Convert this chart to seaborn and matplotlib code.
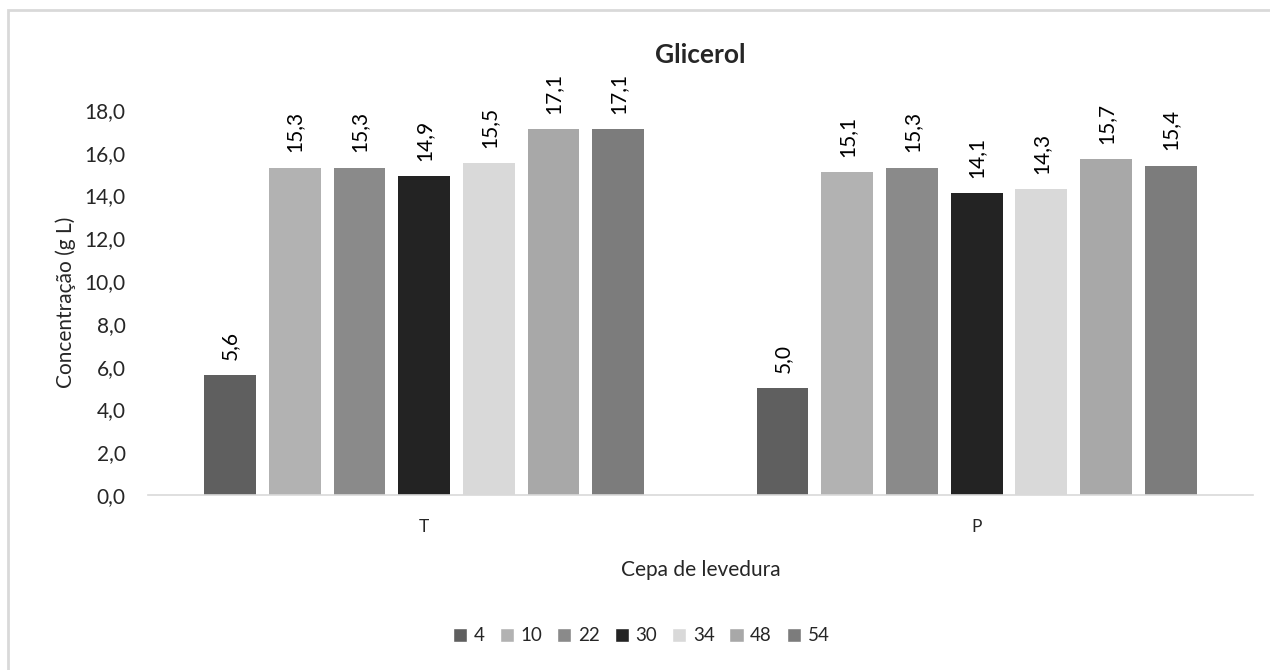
import pandas as pd
import matplotlib.pyplot as plt
import seaborn as sns
from matplotlib.patches import Rectangle

cepas = ['T', 'P']
tempos = ['4', '10', '22', '30', '34', '48', '54']
valores_T = [5.6, 15.3, 15.3, 14.9, 15.5, 17.1, 17.1]
valores_P = [5.0, 15.1, 15.3, 14.1, 14.3, 15.7, 15.4]
cores = ['#5f5f5f', '#b2b2b2', '#8a8a8a', '#232323', '#d9d9d9', '#a8a8a8', '#7c7c7c']

linhas = []
for t, v in zip(tempos, valores_T):
    linhas.append({'cepa': 'T', 'tempo': t, 'valor': v})
for t, v in zip(tempos, valores_P):
    linhas.append({'cepa': 'P', 'tempo': t, 'valor': v})
df = pd.DataFrame(linhas)

sns.set_style('white')
plt.rcParams['font.family'] = ['Lato', 'DejaVu Sans']

fig = plt.figure(figsize=(12.7, 6.7), dpi=100)
ax = fig.add_axes([0.1165, 0.261, 0.870, 0.575])

sns.barplot(data=df, x='cepa', y='valor', hue='tempo', order=cepas, hue_order=tempos,
            palette=dict(zip(tempos, cores)), width=0.82, gap=0.2, linewidth=0,
            errorbar=None, ax=ax, legend=False)

for cont in ax.containers:
    for barra in cont:
        h = barra.get_height()
        ax.annotate(('%.1f' % h).replace('.', ','),
                    (barra.get_x() + barra.get_width() / 2, h),
                    xytext=(0, 11), textcoords='offset points',
                    rotation=90, ha='center', va='bottom', fontsize=15, color='#000000')

ax.set_ylim(0, 18)
ax.set_yticks(range(0, 19, 2))
ax.set_yticklabels([('%.1f' % v).replace('.', ',') for v in range(0, 19, 2)], fontsize=15)
ax.tick_params(axis='x', labelsize=12.5, length=0, pad=17)
ax.tick_params(axis='y', length=0, pad=16)
for s in ['top', 'right', 'left']:
    ax.spines[s].set_visible(False)
ax.spines['bottom'].set_color('#d9d9d9')
ax.spines['bottom'].set_linewidth(1.2)

ax.set_xlabel('Cepa de levedura', fontsize=15, labelpad=18)
ax.set_ylabel('Concentração (g L)', fontsize=15, labelpad=6)
ax.set_title('Glicerol', fontsize=19, fontweight='bold', pad=34)

alcas = [Rectangle((0, 0), 1, 1, facecolor=c) for c in cores]
fig.legend(alcas, tempos, loc='center', bbox_to_anchor=(0.505, 0.051), ncol=7,
           frameon=False, fontsize=13.5, handlelength=0.75, handleheight=0.75,
           handletextpad=0.35, columnspacing=0.8)

fig.patches.append(Rectangle((8 / 1270, -0.1), 1.2, 1 - 9.5 / 670 + 0.1, transform=fig.transFigure,
                             fill=False, edgecolor='#d9d9d9', linewidth=2))

fig.savefig('out.png', dpi=100, facecolor='white')
